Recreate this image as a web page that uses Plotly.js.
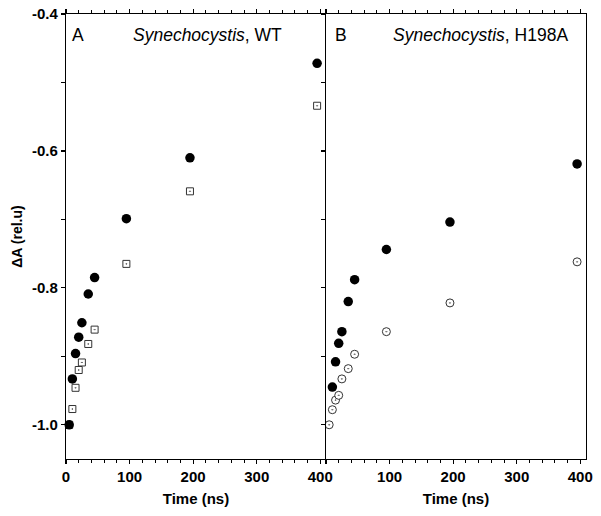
<!DOCTYPE html>
<html>
<head>
<meta charset="utf-8">
<script src="https://cdn.plot.ly/plotly-3.0.1.min.js"></script>
<style>html,body{margin:0;padding:0;background:#fff;}#chart{width:601px;height:516px;}</style>
</head>
<body>
<div id="chart"></div>
<script>
// Time points (ns)
const timeNs = [5, 10, 15, 20, 25, 35, 45, 95, 195, 395];
const timeNsB = [10, 15, 20, 25, 35, 45, 95, 195, 395];

// Panel A: Synechocystis, WT
const wtFilled = [-1.000, -0.933, -0.896, -0.872, -0.851, -0.809, -0.785, -0.699, -0.610, -0.472];
const wtOpen   = [-1.000, -0.977, -0.946, -0.920, -0.909, -0.882, -0.861, -0.765, -0.659, -0.534];

// Panel B: Synechocystis, H198A
const h198aFilled = [-0.945, -0.908, -0.881, -0.864, -0.820, -0.788, -0.744, -0.704, -0.619];
const h198aOpen   = [-1.000, -0.978, -0.964, -0.957, -0.933, -0.918, -0.897, -0.864, -0.822, -0.762];

const xTickVals = [0, 100, 200, 300, 400];
const xTickTextA = ['0', '100', '200', '300', '400'];
const xTickTextB = ['', '100', '200', '300', '400'];
const yTickVals = [-1.0, -0.8, -0.6, -0.4];
const yTickText = ['-1.0', '-0.8', '-0.6', '-0.4'];

const FONT = 'Liberation Sans, Arial, Helvetica, sans-serif';
const EDGE = '#333333';

const traces = [
  {x: timeNs, y: wtOpen, xaxis: 'x', yaxis: 'y', mode: 'markers', type: 'scatter', cliponaxis: false,
   marker: {symbol: 'square-dot', size: 7, color: '#ffffff', line: {color: EDGE, width: 1}}},
  {x: timeNs, y: wtFilled, xaxis: 'x', yaxis: 'y', mode: 'markers', type: 'scatter', cliponaxis: false,
   marker: {symbol: 'circle', size: 9.5, color: '#000000', line: {width: 0}}},
  {x: timeNs, y: h198aOpen, xaxis: 'x2', yaxis: 'y2', mode: 'markers', type: 'scatter', cliponaxis: false,
   marker: {symbol: 'circle-dot', size: 8, color: '#ffffff', line: {color: EDGE, width: 1}}},
  {x: timeNsB, y: h198aFilled, xaxis: 'x2', yaxis: 'y2', mode: 'markers', type: 'scatter', cliponaxis: false,
   marker: {symbol: 'circle', size: 9.5, color: '#000000', line: {width: 0}}}
];

const xCommon = {
  range: [0, 409], showline: true, linecolor: '#000', linewidth: 1.2,
  ticks: 'outside', ticklen: 4, tickwidth: 1.2, tickcolor: '#000', mirror: 'ticks',
  tickmode: 'array', tickvals: xTickVals,
  minor: {dtick: 20, ticks: 'outside', ticklen: 3, tickwidth: 1, tickcolor: '#000'},
  showgrid: false, zeroline: false,
  tickfont: {family: FONT, size: 15, color: '#000', weight: 'bold'},
  title: {text: 'Time (ns)', font: {family: FONT, size: 15, color: '#000', weight: 'bold'}, standoff: 9}
};

const layout = {
  width: 601, height: 516,
  margin: {l: 66, r: 15, t: 14, b: 57},
  paper_bgcolor: '#fff', plot_bgcolor: '#fff',
  showlegend: false,
  font: {family: FONT, color: '#000'},
  xaxis: Object.assign({}, xCommon, {domain: [0, 0.5], anchor: 'y', ticktext: xTickTextA}),
  xaxis2: Object.assign({}, xCommon, {domain: [0.5, 1], anchor: 'y2', ticktext: xTickTextB}),
  yaxis: {
    range: [-1.05, -0.4], anchor: 'x', showline: true, linecolor: '#000', linewidth: 1.2,
    ticks: 'outside', ticklen: 4, tickwidth: 1.2, tickcolor: '#000',
    tickmode: 'array', tickvals: yTickVals, ticktext: yTickText,
    minor: {dtick: 0.1, ticks: 'outside', ticklen: 4, tickwidth: 1, tickcolor: '#000'},
    showgrid: false, zeroline: false,
    tickfont: {family: FONT, size: 15, color: '#000', weight: 'bold'},
    title: {text: 'ΔA (rel.u)', font: {family: FONT, size: 14, color: '#000', weight: 'bold'}, standoff: 6}
  },
  yaxis2: {
    range: [-1.05, -0.4], anchor: 'x2', showline: true, linecolor: '#000', linewidth: 1.2, mirror: true,
    ticks: 'outside', ticklen: 4, tickwidth: 1.2, tickcolor: '#000',
    tickmode: 'array', tickvals: yTickVals, showticklabels: false,
    minor: {dtick: 0.1, ticks: 'outside', ticklen: 4, tickwidth: 1, tickcolor: '#000'},
    showgrid: false, zeroline: false
  },
  annotations: [
    {text: 'A', xref: 'paper', yref: 'paper', x: 0.024, y: 0.953, xanchor: 'center', yanchor: 'middle',
     showarrow: false, font: {family: FONT, size: 17.5, color: '#000'}},
    {text: '<i>Synechocystis</i>, WT', xref: 'paper', yref: 'paper', x: 0.273, y: 0.953, xanchor: 'center', yanchor: 'middle',
     showarrow: false, font: {family: FONT, size: 17.5, color: '#000'}},
    {text: 'B', xref: 'paper', yref: 'paper', x: 0.528, y: 0.953, xanchor: 'center', yanchor: 'middle',
     showarrow: false, font: {family: FONT, size: 17.5, color: '#000'}},
    {text: '<i>Synechocystis</i>, H198A', xref: 'paper', yref: 'paper', x: 0.797, y: 0.953, xanchor: 'center', yanchor: 'middle',
     showarrow: false, font: {family: FONT, size: 17.5, color: '#000'}}
  ]
};

Plotly.newPlot('chart', traces, layout, {displayModeBar: false, staticPlot: true});
</script>
</body>
</html>
